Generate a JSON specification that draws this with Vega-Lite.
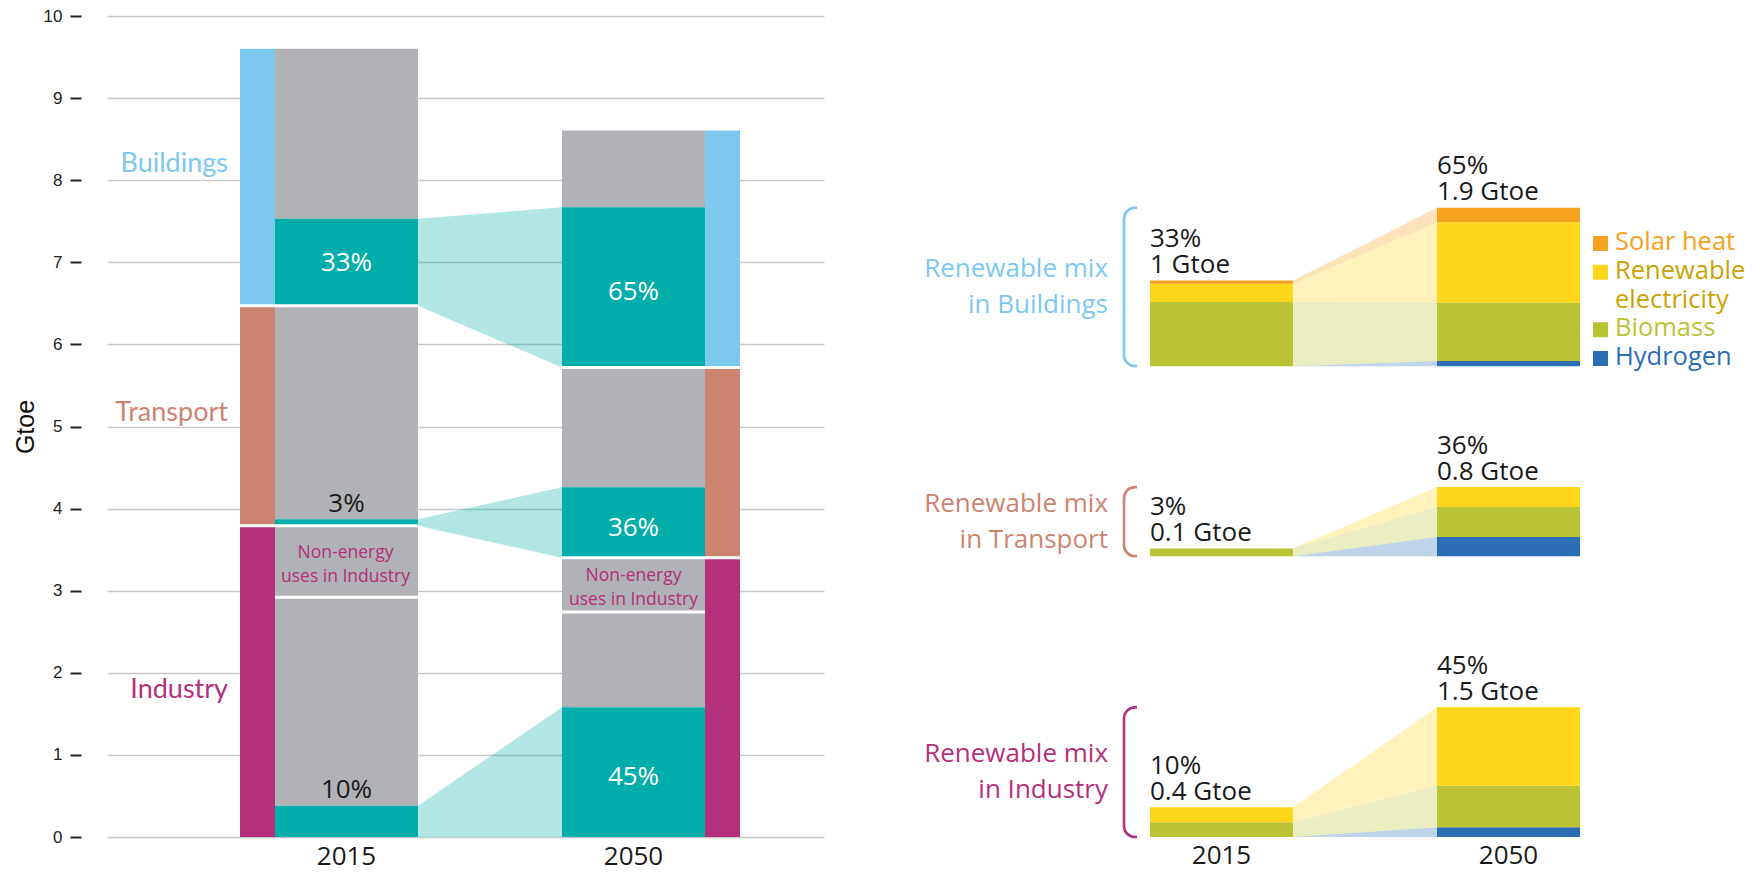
{
"$schema":"https://vega.github.io/schema/vega-lite/v6.json",
"width":717,"height":821,
"autosize":{"type":"none"},
"padding":{"left":107,"top":16,"right":938,"bottom":35},
"background":"white",
"config":{"view":{"stroke":null}},
"datasets":{
"left":[
{"year":2015,"sector":"Buildings","part":"other","lo":7.53,"hi":9.6},
{"year":2015,"sector":"Buildings","part":"ren","lo":6.47,"hi":7.53,"label":"33%"},
{"year":2015,"sector":"Transport","part":"other","lo":3.87,"hi":6.47},
{"year":2015,"sector":"Transport","part":"ren","lo":3.79,"hi":3.87,"label":"3%"},
{"year":2015,"sector":"Industry","part":"nonenergy","lo":2.92,"hi":3.79,"label":"Non-energy\nuses in Industry"},
{"year":2015,"sector":"Industry","part":"other","lo":0.38,"hi":2.92},
{"year":2015,"sector":"Industry","part":"ren","lo":0,"hi":0.38,"label":"10%"},
{"year":2050,"sector":"Buildings","part":"other","lo":7.67,"hi":8.605},
{"year":2050,"sector":"Buildings","part":"ren","lo":5.72,"hi":7.67,"label":"65%"},
{"year":2050,"sector":"Transport","part":"other","lo":4.26,"hi":5.72},
{"year":2050,"sector":"Transport","part":"ren","lo":3.4,"hi":4.26,"label":"36%"},
{"year":2050,"sector":"Industry","part":"nonenergy","lo":2.74,"hi":3.4,"label":"Non-energy\nuses in Industry"},
{"year":2050,"sector":"Industry","part":"other","lo":1.58,"hi":2.74},
{"year":2050,"sector":"Industry","part":"ren","lo":0,"hi":1.58,"label":"45%"}
],
"mix":[
{"grp":"Buildings 2015","sector":"Buildings","year":2015,"source":"Hydrogen","lo":5.735,"hi":5.735},
{"grp":"Buildings 2015","sector":"Buildings","year":2015,"source":"Biomass","lo":5.735,"hi":6.515},
{"grp":"Buildings 2015","sector":"Buildings","year":2015,"source":"Renewable electricity","lo":6.515,"hi":6.739},
{"grp":"Buildings 2015","sector":"Buildings","year":2015,"source":"Solar heat","lo":6.739,"hi":6.779},
{"grp":"Buildings 2050","sector":"Buildings","year":2050,"source":"Hydrogen","lo":5.735,"hi":5.797},
{"grp":"Buildings 2050","sector":"Buildings","year":2050,"source":"Biomass","lo":5.797,"hi":6.508},
{"grp":"Buildings 2050","sector":"Buildings","year":2050,"source":"Renewable electricity","lo":6.508,"hi":7.489},
{"grp":"Buildings 2050","sector":"Buildings","year":2050,"source":"Solar heat","lo":7.489,"hi":7.664},
{"grp":"Transport 2015","sector":"Transport","year":2015,"source":"Hydrogen","lo":3.42,"hi":3.42},
{"grp":"Transport 2015","sector":"Transport","year":2015,"source":"Biomass","lo":3.42,"hi":3.514},
{"grp":"Transport 2015","sector":"Transport","year":2015,"source":"Renewable electricity","lo":3.514,"hi":3.514},
{"grp":"Transport 2050","sector":"Transport","year":2050,"source":"Hydrogen","lo":3.42,"hi":3.654},
{"grp":"Transport 2050","sector":"Transport","year":2050,"source":"Biomass","lo":3.654,"hi":4.019},
{"grp":"Transport 2050","sector":"Transport","year":2050,"source":"Renewable electricity","lo":4.019,"hi":4.262},
{"grp":"Industry 2015","sector":"Industry","year":2015,"source":"Hydrogen","lo":0,"hi":0},
{"grp":"Industry 2015","sector":"Industry","year":2015,"source":"Biomass","lo":0,"hi":0.179},
{"grp":"Industry 2015","sector":"Industry","year":2015,"source":"Renewable electricity","lo":0.179,"hi":0.361},
{"grp":"Industry 2050","sector":"Industry","year":2050,"source":"Hydrogen","lo":0,"hi":0.118},
{"grp":"Industry 2050","sector":"Industry","year":2050,"source":"Biomass","lo":0.118,"hi":0.624},
{"grp":"Industry 2050","sector":"Industry","year":2050,"source":"Renewable electricity","lo":0.624,"hi":1.579}
],
"rlabels":[
{"grp":"Buildings 2015","txt":"33%\n1 Gtoe"},
{"grp":"Buildings 2050","txt":"65%\n1.9 Gtoe"},
{"grp":"Transport 2015","txt":"3%\n0.1 Gtoe"},
{"grp":"Transport 2050","txt":"36%\n0.8 Gtoe"},
{"grp":"Industry 2015","txt":"10%\n0.4 Gtoe"},
{"grp":"Industry 2050","txt":"45%\n1.5 Gtoe"}
],
"groups":[
{"sector":"Buildings","title":"Renewable mix\nin Buildings"},
{"sector":"Transport","title":"Renewable mix\nin Transport"},
{"sector":"Industry","title":"Renewable mix\nin Industry"}
],
"legend":[
{"item":"Solar heat","line":"Solar heat"},
{"item":"Renewable electricity","line":"Renewable"},
{"item":"Renewable electricity","line":"electricity"},
{"item":"Biomass","line":"Biomass"},
{"item":"Hydrogen","line":"Hydrogen"}
]
},
"resolve":{"scale":{"x":"independent","y":"independent","color":"independent","fill":"independent","stroke":"independent"}},
"layer":[
{"data":{"name":"left"},
 "mark":{"type":"rule","opacity":0},
 "encoding":{
  "y":{"field":"lo","type":"quantitative","scale":{"domain":[0,10],"zero":true,"nice":false},
   "axis":{"title":"Gtoe","values":[0,1,2,3,4,5,6,7,8,9,10],"grid":true,"gridColor":"#c8c8c8","gridWidth":1.5,"domain":false,"ticks":true,"tickSize":11,"tickWidth":2,"tickColor":"#222222","offset":26,"labelFont":"Liberation Sans","labelFontSize":17,"labelColor":"#222222","labelPadding":8,"titleFont":"Liberation Sans","titleFontSize":25,"titleFontWeight":"normal","titleColor":"#111111","titlePadding":5}}}},
{
"data":{"name":"left"},
"layer":[
{"transform":[{"filter":"datum.part == 'ren'"}],
 "mark":{"type":"area","color":"#00adaa","opacity":0.3},
 "encoding":{
  "x":{"field":"year","type":"quantitative","scale":{"domain":[2015,2050],"range":[311,455],"zero":false,"nice":false,"padding":0},"axis":null},
  "y":{"field":"lo","type":"quantitative","scale":{"domain":[0,10],"zero":true,"nice":false},"axis":null},
  "y2":{"field":"hi"},
  "detail":{"field":"sector"}}},
{"transform":[{"filter":"datum.year == 2015"}],
 "mark":{"type":"bar","width":143,"xOffset":-71.5},
 "encoding":{"x":{"field":"year","type":"quantitative"},"y":{"field":"lo","type":"quantitative","axis":null},"y2":{"field":"hi"},
  "color":{"field":"part","type":"nominal","scale":{"domain":["other","ren","nonenergy","Buildings","Transport","Industry"],"range":["#b1b2b5","#00adaa","#b1b2b5","#7dc8ee","#cc8470","#b5307a"]},"legend":null}}},
{"transform":[{"filter":"datum.year == 2050"}],
 "mark":{"type":"bar","width":143,"xOffset":71.5},
 "encoding":{"x":{"field":"year","type":"quantitative"},"y":{"field":"lo","type":"quantitative","axis":null},"y2":{"field":"hi"},
  "color":{"field":"part","type":"nominal","scale":{"domain":["other","ren","nonenergy","Buildings","Transport","Industry"],"range":["#b1b2b5","#00adaa","#b1b2b5","#7dc8ee","#cc8470","#b5307a"]},"legend":null}}},
{"transform":[{"filter":"datum.year == 2015"},{"aggregate":[{"op":"min","field":"lo","as":"slo"},{"op":"max","field":"hi","as":"shi"}],"groupby":["year","sector"]}],
 "mark":{"type":"bar","width":35,"xOffset":-160.5},
 "encoding":{"x":{"field":"year","type":"quantitative"},"y":{"field":"slo","type":"quantitative","axis":null},"y2":{"field":"shi"},
  "color":{"field":"sector","type":"nominal","scale":{"domain":["other","ren","nonenergy","Buildings","Transport","Industry"],"range":["#b1b2b5","#00adaa","#b1b2b5","#7dc8ee","#cc8470","#b5307a"]},"legend":null}}},
{"transform":[{"filter":"datum.year == 2050"},{"aggregate":[{"op":"min","field":"lo","as":"slo"},{"op":"max","field":"hi","as":"shi"}],"groupby":["year","sector"]}],
 "mark":{"type":"bar","width":35,"xOffset":160.5},
 "encoding":{"x":{"field":"year","type":"quantitative"},"y":{"field":"slo","type":"quantitative","axis":null},"y2":{"field":"shi"},
  "color":{"field":"sector","type":"nominal","scale":{"domain":["other","ren","nonenergy","Buildings","Transport","Industry"],"range":["#b1b2b5","#00adaa","#b1b2b5","#7dc8ee","#cc8470","#b5307a"]},"legend":null}}},
{"transform":[{"filter":"datum.year == 2015"},{"aggregate":[{"op":"min","field":"lo","as":"slo"}],"groupby":["year","sector"]},{"filter":"datum.slo > 0"}],
 "mark":{"type":"rule","color":"white","strokeWidth":3,"xOffset":-178,"x2Offset":0},
 "encoding":{"x":{"field":"year","type":"quantitative"},"x2":{"field":"year"},"y":{"field":"slo","type":"quantitative","axis":null}}},
{"transform":[{"filter":"datum.year == 2050"},{"aggregate":[{"op":"min","field":"lo","as":"slo"}],"groupby":["year","sector"]},{"filter":"datum.slo > 0"}],
 "mark":{"type":"rule","color":"white","strokeWidth":3,"xOffset":0,"x2Offset":179},
 "encoding":{"x":{"field":"year","type":"quantitative"},"x2":{"field":"year"},"y":{"field":"slo","type":"quantitative","axis":null}}},
{"transform":[{"filter":"datum.year == 2015 && datum.part == 'nonenergy'"}],
 "mark":{"type":"rule","color":"white","strokeWidth":3,"xOffset":-143,"x2Offset":0},
 "encoding":{"x":{"field":"year","type":"quantitative"},"x2":{"field":"year"},"y":{"field":"lo","type":"quantitative","axis":null}}},
{"transform":[{"filter":"datum.year == 2050 && datum.part == 'nonenergy'"}],
 "mark":{"type":"rule","color":"white","strokeWidth":3,"xOffset":0,"x2Offset":143},
 "encoding":{"x":{"field":"year","type":"quantitative"},"x2":{"field":"year"},"y":{"field":"lo","type":"quantitative","axis":null}}},
{"transform":[{"filter":"datum.year == 2015 && datum.part == 'ren' && datum.hi - datum.lo > 0.5"},{"fold":["lo","hi"],"as":["k","v"]}],
 "mark":{"type":"text","font":"Open Sans","fontSize":26,"color":"white","baseline":"middle","align":"center","xOffset":-71.5,"yOffset":1},
 "encoding":{"x":{"field":"year","type":"quantitative"},"y":{"aggregate":"mean","field":"v","type":"quantitative","axis":null},"text":{"field":"label","type":"nominal"}}},
{"transform":[{"filter":"datum.year == 2050 && datum.part == 'ren' && datum.hi - datum.lo > 0.5"},{"fold":["lo","hi"],"as":["k","v"]}],
 "mark":{"type":"text","font":"Open Sans","fontSize":26,"color":"white","baseline":"middle","align":"center","xOffset":71.5,"yOffset":5},
 "encoding":{"x":{"field":"year","type":"quantitative"},"y":{"aggregate":"mean","field":"v","type":"quantitative","axis":null},"text":{"field":"label","type":"nominal"}}},
{"transform":[{"filter":"datum.part == 'ren' && datum.hi - datum.lo <= 0.5"}],
 "mark":{"type":"text","font":"Open Sans","fontSize":26,"color":"#1a1a1a","baseline":"alphabetic","align":"center","xOffset":-71.5,"yOffset":-7.5},
 "encoding":{"x":{"field":"year","type":"quantitative"},"y":{"field":"hi","type":"quantitative","axis":null},"text":{"field":"label","type":"nominal"}}},
{"transform":[{"filter":"datum.year == 2015 && datum.part == 'nonenergy'"},{"fold":["lo","hi"],"as":["k","v"]}],
 "mark":{"type":"text","font":"Open Sans","fontSize":17.5,"lineHeight":24,"lineBreak":"\n","color":"#b5307a","baseline":"alphabetic","align":"center","xOffset":-72.5,"yOffset":-4},
 "encoding":{"x":{"field":"year","type":"quantitative"},"y":{"aggregate":"mean","field":"v","type":"quantitative","axis":null},"text":{"field":"label","type":"nominal"}}},
{"transform":[{"filter":"datum.year == 2050 && datum.part == 'nonenergy'"},{"fold":["lo","hi"],"as":["k","v"]}],
 "mark":{"type":"text","font":"Open Sans","fontSize":17.5,"lineHeight":24,"lineBreak":"\n","color":"#b5307a","baseline":"alphabetic","align":"center","xOffset":71.5,"yOffset":-4},
 "encoding":{"x":{"field":"year","type":"quantitative"},"y":{"aggregate":"mean","field":"v","type":"quantitative","axis":null},"text":{"field":"label","type":"nominal"}}},
{"transform":[{"filter":"datum.year == 2015 && datum.sector == 'Buildings'"},{"aggregate":[{"op":"min","field":"lo","as":"slo"},{"op":"max","field":"hi","as":"shi"}],"groupby":["sector"]},{"fold":["slo","shi"],"as":["k","v"]}],
 "mark":{"type":"text","font":"Lato","fontSize":27,"baseline":"middle","align":"right","xOffset":-190,"yOffset":-13},
 "encoding":{"x":{"datum":2015,"type":"quantitative"},"y":{"aggregate":"mean","field":"v","type":"quantitative","axis":null},"text":{"field":"sector","type":"nominal"},
  "color":{"field":"sector","type":"nominal","scale":{"domain":["other","ren","nonenergy","Buildings","Transport","Industry"],"range":["#b1b2b5","#00adaa","#b1b2b5","#7dc8ee","#cc8470","#b5307a"]},"legend":null}}},
{"transform":[{"filter":"datum.year == 2015 && datum.sector == 'Transport'"},{"aggregate":[{"op":"min","field":"lo","as":"slo"},{"op":"max","field":"hi","as":"shi"}],"groupby":["sector"]},{"fold":["slo","shi"],"as":["k","v"]}],
 "mark":{"type":"text","font":"Lato","fontSize":27,"baseline":"middle","align":"right","xOffset":-190,"yOffset":-3},
 "encoding":{"x":{"datum":2015,"type":"quantitative"},"y":{"aggregate":"mean","field":"v","type":"quantitative","axis":null},"text":{"field":"sector","type":"nominal"},
  "color":{"field":"sector","type":"nominal","scale":{"domain":["other","ren","nonenergy","Buildings","Transport","Industry"],"range":["#b1b2b5","#00adaa","#b1b2b5","#7dc8ee","#cc8470","#b5307a"]},"legend":null}}},
{"transform":[{"filter":"datum.year == 2015 && datum.sector == 'Industry'"},{"aggregate":[{"op":"min","field":"lo","as":"slo"},{"op":"max","field":"hi","as":"shi"}],"groupby":["sector"]},{"fold":["slo","shi"],"as":["k","v"]}],
 "mark":{"type":"text","font":"Lato","fontSize":27,"baseline":"middle","align":"right","xOffset":-190,"yOffset":9},
 "encoding":{"x":{"datum":2015,"type":"quantitative"},"y":{"aggregate":"mean","field":"v","type":"quantitative","axis":null},"text":{"field":"sector","type":"nominal"},
  "color":{"field":"sector","type":"nominal","scale":{"domain":["other","ren","nonenergy","Buildings","Transport","Industry"],"range":["#b1b2b5","#00adaa","#b1b2b5","#7dc8ee","#cc8470","#b5307a"]},"legend":null}}},
{"transform":[{"filter":"datum.year == 2015 && datum.sector == 'Industry' && datum.part == 'ren'"}],
 "mark":{"type":"text","font":"Open Sans","fontSize":26,"color":"#1a1a1a","baseline":"alphabetic","align":"center","xOffset":-71.5,"yOffset":28},
 "encoding":{"x":{"field":"year","type":"quantitative"},"y":{"datum":0,"type":"quantitative","axis":null},"text":{"field":"year","type":"nominal"}}},
{"transform":[{"filter":"datum.year == 2050 && datum.sector == 'Industry' && datum.part == 'ren'"}],
 "mark":{"type":"text","font":"Open Sans","fontSize":26,"color":"#1a1a1a","baseline":"alphabetic","align":"center","xOffset":71.5,"yOffset":28},
 "encoding":{"x":{"field":"year","type":"quantitative"},"y":{"datum":0,"type":"quantitative","axis":null},"text":{"field":"year","type":"nominal"}}}
]
},
{
"data":{"name":"mix"},
"layer":[
{"mark":{"type":"area","opacity":0.3},
 "encoding":{"x":{"field":"year","type":"quantitative","scale":{"domain":[2015,2050],"range":[1186,1330],"zero":false,"nice":false,"padding":0},"axis":null},
  "y":{"field":"lo","type":"quantitative","scale":{"domain":[0,10],"zero":true,"nice":false},"axis":null},
  "y2":{"field":"hi"},
  "color":{"field":"source","type":"nominal","scale":{"domain":["Hydrogen","Biomass","Renewable electricity","Solar heat"],"range":["#2b6db5","#b9c334","#fed51b","#f5a21e"]},"legend":null},
  "detail":[{"field":"sector"},{"field":"source"}]}},
{"transform":[{"aggregate":[{"op":"min","field":"lo","as":"blo"},{"op":"max","field":"hi","as":"bhi"}],"groupby":["sector"]}],
 "mark":{"type":"bar","width":28,"xOffset":-155,"cornerRadius":11,"fill":"transparent","strokeWidth":2.6},
 "encoding":{"x":{"datum":2015,"type":"quantitative"},"y":{"field":"blo","type":"quantitative","axis":null},"y2":{"field":"bhi"},
  "stroke":{"field":"sector","type":"nominal","scale":{"domain":["Buildings","Transport","Industry"],"range":["#7dc8ee","#cc8470","#b5307a"]},"legend":null}}},
{"transform":[{"aggregate":[{"op":"min","field":"lo","as":"blo"},{"op":"max","field":"hi","as":"bhi"}],"groupby":["sector"]}],
 "mark":{"type":"bar","width":23,"xOffset":-144.5,"color":"white","yOffset":4,"y2Offset":-4},
 "encoding":{"x":{"datum":2015,"type":"quantitative"},"y":{"field":"blo","type":"quantitative","axis":null},"y2":{"field":"bhi"}}},
{"transform":[{"filter":"datum.year == 2015"}],
 "mark":{"type":"bar","width":143,"xOffset":-71.5},
 "encoding":{"x":{"field":"year","type":"quantitative"},"y":{"field":"lo","type":"quantitative","axis":null},"y2":{"field":"hi"},
  "color":{"field":"source","type":"nominal","scale":{"domain":["Hydrogen","Biomass","Renewable electricity","Solar heat"],"range":["#2b6db5","#b9c334","#fed51b","#f5a21e"]},"legend":null}}},
{"transform":[{"filter":"datum.year == 2050"}],
 "mark":{"type":"bar","width":143,"xOffset":71.5},
 "encoding":{"x":{"field":"year","type":"quantitative"},"y":{"field":"lo","type":"quantitative","axis":null},"y2":{"field":"hi"},
  "color":{"field":"source","type":"nominal","scale":{"domain":["Hydrogen","Biomass","Renewable electricity","Solar heat"],"range":["#2b6db5","#b9c334","#fed51b","#f5a21e"]},"legend":null}}},
{"transform":[{"filter":"datum.year == 2015"},{"aggregate":[{"op":"max","field":"hi","as":"top"}],"groupby":["grp","year"]},{"lookup":"grp","from":{"data":{"name":"rlabels"},"key":"grp","fields":["txt"]}}],
 "mark":{"type":"text","font":"Open Sans","fontSize":26,"lineHeight":26,"lineBreak":"\n","color":"#1a1a1a","align":"left","baseline":"alphabetic","xOffset":-143,"yOffset":-33.5},
 "encoding":{"x":{"field":"year","type":"quantitative"},"y":{"field":"top","type":"quantitative","axis":null},"text":{"field":"txt","type":"nominal"}}},
{"transform":[{"filter":"datum.year == 2050"},{"aggregate":[{"op":"max","field":"hi","as":"top"}],"groupby":["grp","year"]},{"lookup":"grp","from":{"data":{"name":"rlabels"},"key":"grp","fields":["txt"]}}],
 "mark":{"type":"text","font":"Open Sans","fontSize":26,"lineHeight":26,"lineBreak":"\n","color":"#1a1a1a","align":"left","baseline":"alphabetic","xOffset":0,"yOffset":-33.5},
 "encoding":{"x":{"field":"year","type":"quantitative"},"y":{"field":"top","type":"quantitative","axis":null},"text":{"field":"txt","type":"nominal"}}},
{"transform":[{"aggregate":[{"op":"min","field":"lo","as":"blo"},{"op":"max","field":"hi","as":"bhi"}],"groupby":["sector"]},{"lookup":"sector","from":{"data":{"name":"groups"},"key":"sector","fields":["title"]}},{"fold":["blo","bhi"],"as":["k","v"]}],
 "mark":{"type":"text","font":"Open Sans","fontSize":26,"lineHeight":36,"lineBreak":"\n","align":"right","baseline":"alphabetic","xOffset":-185,"yOffset":-10},
 "encoding":{"x":{"datum":2015,"type":"quantitative"},"y":{"aggregate":"mean","field":"v","type":"quantitative","axis":null},"text":{"field":"title","type":"nominal"},
  "fill":{"field":"sector","type":"nominal","scale":{"domain":["Buildings","Transport","Industry"],"range":["#7dc8ee","#cc8470","#b5307a"]},"legend":null}}},
{"transform":[{"filter":"datum.year == 2015 && datum.sector == 'Industry' && datum.source == 'Biomass'"}],
 "mark":{"type":"text","font":"Open Sans","fontSize":26,"color":"#1a1a1a","baseline":"alphabetic","align":"center","xOffset":-71.5,"yOffset":27},
 "encoding":{"x":{"field":"year","type":"quantitative"},"y":{"datum":0,"type":"quantitative","axis":null},"text":{"field":"year","type":"nominal"}}},
{"transform":[{"filter":"datum.year == 2050 && datum.sector == 'Industry' && datum.source == 'Biomass'"}],
 "mark":{"type":"text","font":"Open Sans","fontSize":26,"color":"#1a1a1a","baseline":"alphabetic","align":"center","xOffset":71.5,"yOffset":27},
 "encoding":{"x":{"field":"year","type":"quantitative"},"y":{"datum":0,"type":"quantitative","axis":null},"text":{"field":"year","type":"nominal"}}}
]
},
{
"data":{"name":"legend"},
"layer":[
{"transform":[{"filter":"datum.line != 'electricity'"}],
 "mark":{"type":"point","shape":"square","filled":true,"size":225,"opacity":1,"xOffset":163.5,"yOffset":-6.5},
 "encoding":{"x":{"datum":2050,"type":"quantitative","scale":{"domain":[2015,2050],"range":[1186,1330],"zero":false,"nice":false,"padding":0},"axis":null},
  "y":{"field":"line","type":"ordinal","scale":{"type":"point","domain":["Solar heat","Renewable","electricity","Biomass","Hydrogen"],"range":[234,349],"padding":0},"axis":null},
  "color":{"field":"item","type":"nominal","scale":{"domain":["Solar heat","Renewable electricity","Biomass","Hydrogen"],"range":["#f5a21e","#fed51b","#b9c334","#2b6db5"]},"legend":null}}},
{"mark":{"type":"text","font":"Open Sans","fontSize":25.5,"align":"left","baseline":"alphabetic","xOffset":178},
 "encoding":{"x":{"datum":2050,"type":"quantitative"},"y":{"field":"line","type":"ordinal","axis":null},"text":{"field":"line","type":"nominal"},
  "fill":{"field":"item","type":"nominal","scale":{"domain":["Solar heat","Renewable electricity","Biomass","Hydrogen"],"range":["#f5a21e","#c9a400","#b9c334","#2b6db5"]},"legend":null}}}
]
}
]
}
